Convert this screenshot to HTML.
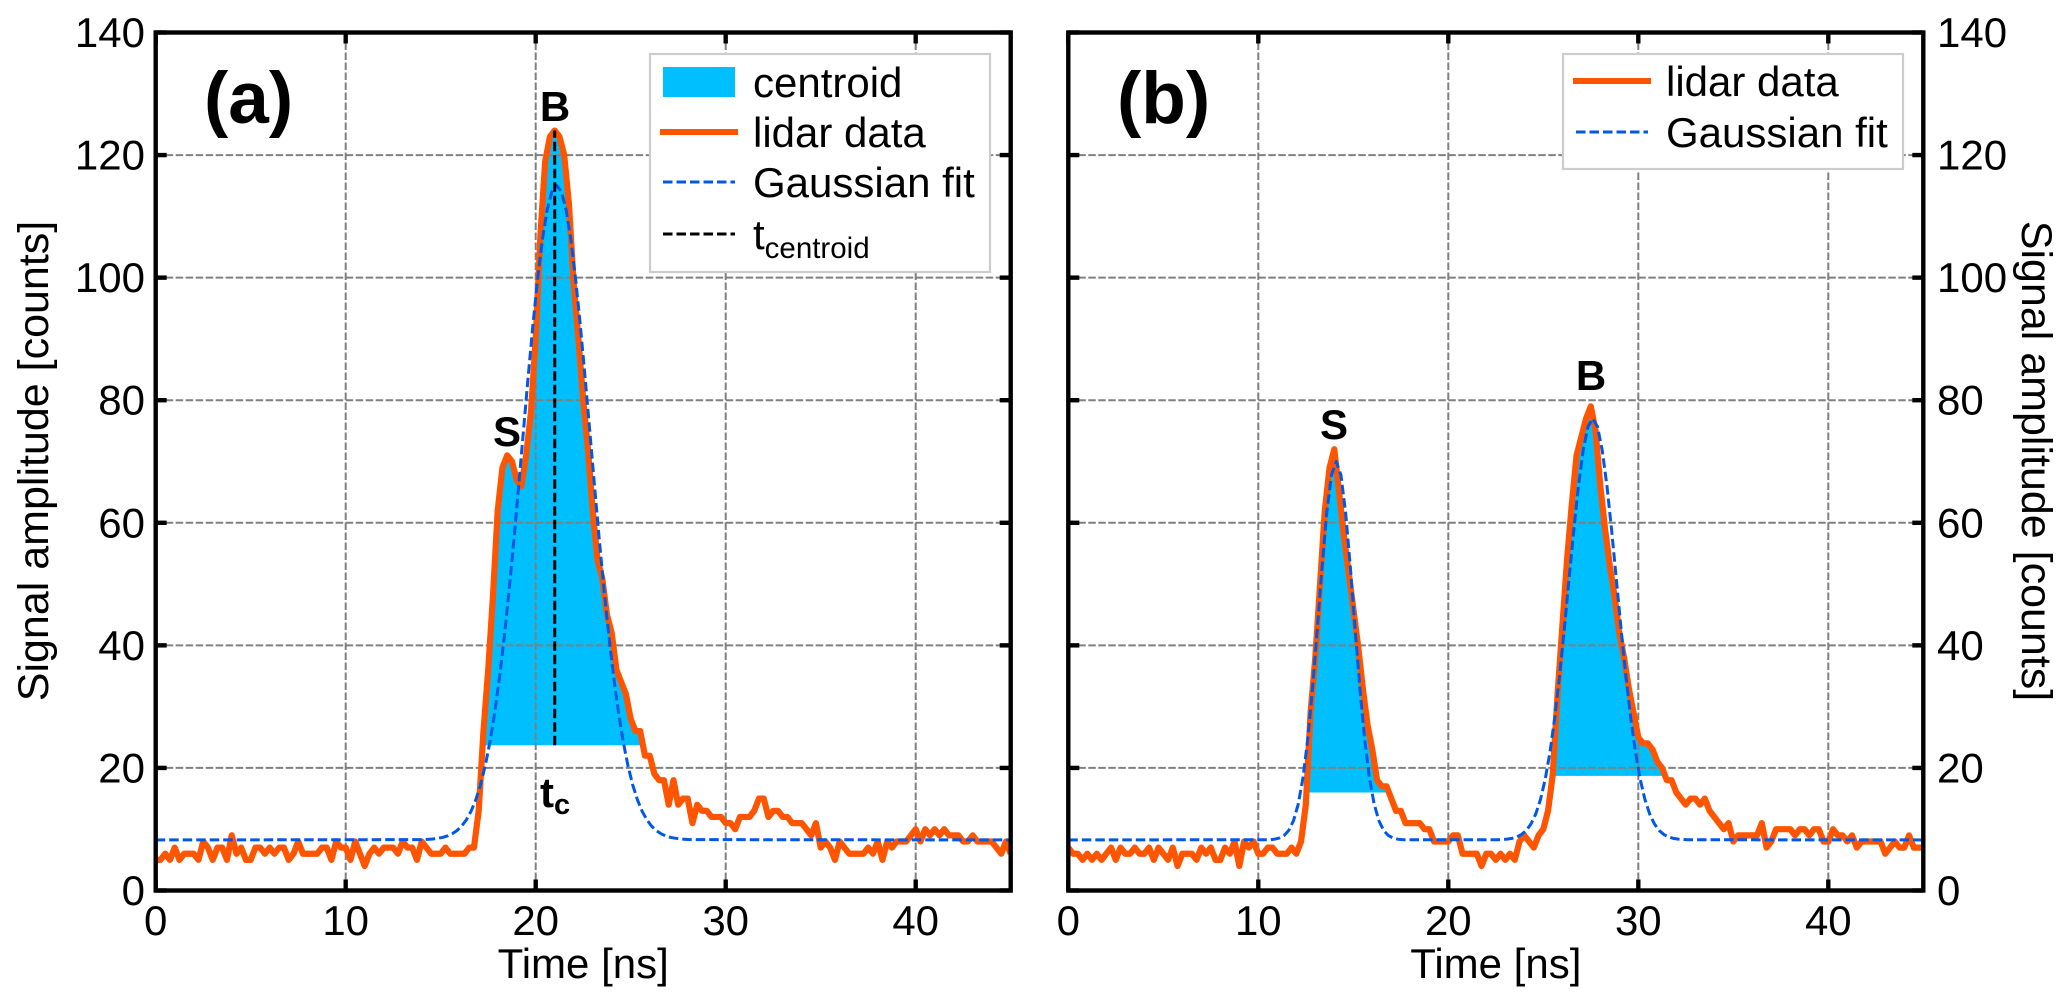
<!DOCTYPE html>
<html lang="en">
<head>
<meta charset="utf-8">
<title>Lidar signal amplitude versus time</title>
<style>
html,body{margin:0;padding:0;background:#fff;}
svg{display:block;}
text{font-family:"Liberation Sans",Arial,sans-serif;fill:#000;}
</style>
</head>
<body>
<svg id="figure" xmlns="http://www.w3.org/2000/svg" width="2067" height="1004" viewBox="0 0 2067 1004">
  <defs>
    <clipPath id="clip-a"><rect x="155.7" y="32.5" width="855" height="858"/></clipPath>
    <clipPath id="clip-b"><rect x="1068.3" y="32.5" width="855" height="858"/></clipPath>
  </defs>
  <rect x="0" y="0" width="2067" height="1004" fill="#fff"/>
  <g id="panel-a"></g>
  <g id="panel-b"></g>

  <text x="204" y="123" font-size="73" font-weight="bold">(a)</text>
  <text x="1117" y="123" font-size="73" font-weight="bold">(b)</text>
  <text x="507" y="446" font-size="42" font-weight="bold" text-anchor="middle">S</text>
  <text x="555" y="121" font-size="42" font-weight="bold" text-anchor="middle">B</text>
  <text x="540" y="807" font-size="42" font-weight="bold">t<tspan font-size="29" dy="7">c</tspan></text>
  <text x="1334" y="439" font-size="42" font-weight="bold" text-anchor="middle">S</text>
  <text x="1591" y="390" font-size="42" font-weight="bold" text-anchor="middle">B</text>

  <g>
    <rect x="650" y="54" width="340" height="218" fill="#fff" stroke="#cccccc" stroke-width="2.2"/>
    <g>
      <rect x="663" y="67" width="72" height="30" fill="#00bfff"/>
      <text x="753" y="97" font-size="42">centroid</text>
    </g>
    <g>
      <line x1="660" y1="132" x2="738" y2="132" stroke="#ff5500" stroke-width="6"/>
      <text x="753" y="147" font-size="42">lidar data</text>
    </g>
    <g>
      <line x1="663" y1="182" x2="735" y2="182" stroke="#0059e6" stroke-width="3" stroke-dasharray="9.5 4"/>
      <text x="753" y="197" font-size="42">Gaussian fit</text>
    </g>
    <g>
      <line x1="663" y1="234" x2="735" y2="234" stroke="#000" stroke-width="3" stroke-dasharray="9.5 4"/>
      <text x="753" y="249" font-size="42">t<tspan font-size="29.5" dy="9">centroid</tspan></text>
    </g>
  </g>

  <g>
    <rect x="1563" y="54" width="340" height="115" fill="#fff" stroke="#cccccc" stroke-width="2.2"/>
    <g>
      <line x1="1573" y1="81" x2="1651" y2="81" stroke="#ff5500" stroke-width="6"/>
      <text x="1666" y="96" font-size="42">lidar data</text>
    </g>
    <g>
      <line x1="1576" y1="132" x2="1648" y2="132" stroke="#0059e6" stroke-width="3" stroke-dasharray="9.5 4"/>
      <text x="1666" y="147" font-size="42">Gaussian fit</text>
    </g>
  </g>
</svg>

<script>
const xTickValues = [0, 10, 20, 30, 40];
const yTickValues = [0, 20, 40, 60, 80, 100, 120, 140];
const xAxisTitle = "Time [ns]";
const yAxisTitle = "Signal amplitude [counts]";
const sampleStepNs = 0.25;

const lidarAmplitudeA = [
  5,5,6,5,7,5,6,6,6,5,
  8,7,5,7,7,5,9,6,7,5,
  5,7,7,6,7,6,7,7,5,6,
  8,6,6,6,6,7,7,5,8,7,
  7,5,8,6,4,6,7,6,7,7,
  7,6,8,7,7,5,8,7,6,6,
  6,7,6,6,6,6,7,7,13,26,
  36,48,62,69,71,70,67,66,71,78,
  90,107,119,123,124,123,120,112,99,90,
  80,72,62,54,51,45,42,36,34,32,
  28,26,26,22,22,19,18,18,14,18,
  14,15,15,11,14,13,13,12,12,12,
  11,11,10,12,12,12,13,15,15,12,
  13,13,12,12,11,11,11,10,9,11,
  7,8,7,5,8,7,6,6,6,6,
  7,6,8,5,8,7,8,8,8,9,
  10,8,10,9,10,9,10,9,9,9,
  8,8,9,8,8,8,8,7,6,8,
  6
];
const lidarAmplitudeB = [
  7,6,6,5,6,5,6,5,6,7,
  5,7,6,6,7,6,6,7,5,7,
  6,5,7,4,6,6,6,5,7,6,
  7,5,5,7,6,8,4,8,7,8,
  6,6,7,7,6,6,6,7,6,8,
  14,29,38,50,62,69,72,65,58,52,
  46,40,33,27,23,18,17,17,15,13,
  13,11,11,11,11,10,10,8,8,8,
  8,9,9,6,6,6,6,4,6,6,
  5,6,5,6,5,8,9,8,7,9,
  10,13,19,32,43,54,63,71,74,77,
  79,75,66,59,53,48,42,38,33,29,
  25,24,24,23,21,20,18,18,16,15,
  14,15,15,14,15,13,12,11,10,11,
  8,9,9,9,9,9,11,7,8,10,
  10,10,10,9,10,10,9,10,10,8,
  8,10,9,9,8,9,7,8,8,8,
  8,8,6,7,8,7,7,9,7,7,
  7
];

const fitTimeA = [
  0,14.1,14.6,15.1,15.35,15.6,15.85,16.1,16.35,16.6,16.85,17.1,17.35,17.6,17.85,
  18.1,18.35,18.6,18.85,19.1,19.35,19.6,19.85,20.1,20.35,20.6,20.85,21.1,
  21.35,21.6,21.85,22.1,22.35,22.6,22.85,23.1,23.35,23.6,23.85,24.1,24.35,
  24.6,24.85,25.1,25.35,25.6,25.85,26.1,26.35,26.6,26.85,27.1,27.6,28.1,45
];
const fitValueA = [
  8.25,8.3,8.41,8.66,8.9,9.25,9.77,10.5,11.53,12.94,14.83,17.29,20.45,24.38,29.17,
  34.89,41.5,48.96,57.14,65.86,74.83,83.71,92.16,99.78,106.17,111.01,114.03,115.05,
  114.03,111.01,106.17,99.78,92.16,83.71,74.83,65.86,57.14,48.96,41.5,34.89,29.17,
  24.38,20.45,17.29,14.83,12.94,11.53,10.5,9.77,9.25,8.9,8.66,8.41,8.3,8.25
];
const fitTimeB = [
  0,10.6,10.85,11.1,11.35,11.6,11.85,12.1,12.35,12.6,12.85,13.1,13.35,13.6,13.85,14.1,
  14.35,14.6,14.85,15.1,15.35,15.6,15.85,16.1,16.35,16.6,16.85,17.1,17.35,17.6,
  22.6,23.1,23.35,23.6,23.85,24.1,24.35,24.6,24.85,25.1,25.35,25.6,25.85,26.1,26.35,
  26.6,26.85,27.1,27.35,27.6,27.85,28.1,28.35,28.6,28.85,29.1,29.35,29.6,29.85,30.1,
  30.35,30.6,30.85,31.1,31.35,31.6,31.85,32.1,32.6,45
];
const fitValueB = [
  8.25,8.29,8.37,8.55,8.96,9.79,11.36,14.06,18.36,24.6,32.79,42.46,52.54,61.52,67.77,70,
  67.77,61.52,52.54,42.46,32.79,24.6,18.36,14.06,11.36,9.79,8.96,8.55,8.37,8.29,
  8.28,8.38,8.5,8.73,9.13,9.79,10.85,12.47,14.84,18.16,22.56,28.15,34.86,42.47,50.61,
  58.67,66,71.87,75.68,77,75.68,71.87,66,58.67,50.61,42.47,34.86,28.15,22.56,18.16,
  14.84,12.47,10.85,9.79,9.13,8.73,8.5,8.38,8.28,8.25
];

const centroidTimeA = [21];
const centroidLevelA = [23.7];
const centroidWindowA = [15, 30];
const centroidLevelB = [16, 18.7];
const centroidWindowStartB = [11, 23];
const centroidWindowEndB = [19, 33];

const SVG_NS = "http://www.w3.org/2000/svg";
const PLOT_TOP = 32.5, PLOT_BOTTOM = 890.5, PLOT_W = 855, X_MAX = 45, Y_MAX = 140;

function yScale(v) { return PLOT_BOTTOM - (v / Y_MAX) * (PLOT_BOTTOM - PLOT_TOP); }
function xScaleFor(left) { return function (t) { return left + (t / X_MAX) * PLOT_W; }; }

function make(tag, attrs, parent) {
  const node = document.createElementNS(SVG_NS, tag);
  Object.keys(attrs).forEach(function (k) { node.setAttribute(k, attrs[k]); });
  parent.appendChild(node);
  return node;
}

function pointsOf(times, values, xs) {
  return times.map(function (t, i) { return xs(t).toFixed(2) + "," + yScale(values[i]).toFixed(2); }).join(" ");
}

function centroidPolygon(times, values, level, tStart, tEnd, xs) {
  const pts = [];
  for (let i = 1; i < times.length; i++) {
    const t0 = times[i - 1], t1 = times[i], v0 = values[i - 1], v1 = values[i];
    if (t1 < tStart || t0 > tEnd) continue;
    if ((v0 < level) !== (v1 < level)) {
      const cross = t0 + (level - v0) / (v1 - v0) * (t1 - t0);
      pts.push([cross, level]);
    }
    if (v1 >= level) pts.push([t1, v1]);
  }
  return pts.map(function (p) { return xs(p[0]).toFixed(2) + "," + yScale(p[1]).toFixed(2); }).join(" ");
}

function drawPanel(cfg) {
  const root = document.getElementById(cfg.id);
  const xs = xScaleFor(cfg.left);
  const right = cfg.left + PLOT_W;
  const times = cfg.amplitude.map(function (_, i) { return i * sampleStepNs; });

  cfg.fills.forEach(function (f) {
    const area = make("polygon", {
      points: centroidPolygon(times, cfg.amplitude, f.level, f.start, f.end, xs),
      fill: "#00bfff"
    }, root);
    
    
  });

  xTickValues.slice(1).forEach(function (t) {
    const g = make("line", { x1: xs(t), x2: xs(t), y1: PLOT_TOP, y2: PLOT_BOTTOM, stroke: "#808080", "stroke-width": 2, "stroke-dasharray": "7.5 2.5" }, root);
    
    
  });
  yTickValues.slice(1, -1).forEach(function (v) {
    const g = make("line", { x1: cfg.left, x2: right, y1: yScale(v), y2: yScale(v), stroke: "#808080", "stroke-width": 2, "stroke-dasharray": "7.5 2.5" }, root);
    
    
  });

  const clipped = make("g", { "clip-path": "url(#" + cfg.clip + ")" }, root);
  
  

  const data = make("polyline", {
    points: pointsOf(times, cfg.amplitude, xs), fill: "none", stroke: "#ff5500",
    "stroke-width": 6.2, "stroke-linejoin": "round", "stroke-linecap": "butt"
  }, clipped);
  
  

  const fit = make("polyline", {
    points: pointsOf(cfg.fitTime, cfg.fitValue, xs), fill: "none", stroke: "#0059e6",
    "stroke-width": 3, "stroke-dasharray": "9.5 4", "stroke-linejoin": "round"
  }, clipped);
  
  

  cfg.centroids.forEach(function (c) {
    const v = make("line", { x1: xs(c.t), x2: xs(c.t), y1: yScale(c.from), y2: yScale(c.to), stroke: "#000", "stroke-width": 3, "stroke-dasharray": "9.5 4" }, clipped);
    
    
  });

  xTickValues.forEach(function (t) {
    [[PLOT_BOTTOM, PLOT_BOTTOM - 11], [PLOT_TOP, PLOT_TOP + 11]].forEach(function (p) {
      const tk = make("line", { x1: xs(t), x2: xs(t), y1: p[0], y2: p[1], stroke: "#000", "stroke-width": 4.4 }, root);
      
      
    });
    const lb = make("text", { x: xs(t), y: 935, "font-size": 42, "text-anchor": "middle" }, root);
    lb.textContent = String(t);
    
    
  });

  yTickValues.forEach(function (v) {
    [[cfg.left, cfg.left + 11], [right, right - 11]].forEach(function (p) {
      const tk = make("line", { x1: p[0], x2: p[1], y1: yScale(v), y2: yScale(v), stroke: "#000", "stroke-width": 4.4 }, root);
      
      
    });
    const lb = make("text", { x: cfg.tickX, y: yScale(v) + 14.5, "font-size": 42, "text-anchor": cfg.tickAnchor }, root);
    lb.textContent = String(v);
    
    
  });

  const frame = make("rect", { x: cfg.left, y: PLOT_TOP, width: PLOT_W, height: PLOT_BOTTOM - PLOT_TOP, fill: "none", stroke: "#000", "stroke-width": 4.4 }, root);
  
  

  const xt = make("text", { x: cfg.left + PLOT_W / 2, y: 978, "font-size": 42, "text-anchor": "middle" }, root);
  xt.textContent = xAxisTitle;
  
  

  const yt = make("text", { transform: "translate(" + cfg.titleX + ",461) rotate(" + cfg.titleRot + ")", "font-size": 43, "text-anchor": "middle" }, root);
  yt.textContent = yAxisTitle;
  
  
}

drawPanel({
  id: "panel-a", clip: "clip-a", left: 155.7,
  amplitude: lidarAmplitudeA, fitTime: fitTimeA, fitValue: fitValueA,
  fills: [{ level: centroidLevelA[0], start: centroidWindowA[0], end: centroidWindowA[1] }],
  centroids: [{ t: centroidTimeA[0], from: centroidLevelA[0], to: 124 }],
  tickX: 145, tickAnchor: "end", titleX: 48, titleRot: -90
});
drawPanel({
  id: "panel-b", clip: "clip-b", left: 1068.3,
  amplitude: lidarAmplitudeB, fitTime: fitTimeB, fitValue: fitValueB,
  fills: centroidLevelB.map(function (lv, i) { return { level: lv, start: centroidWindowStartB[i], end: centroidWindowEndB[i] }; }),
  centroids: [],
  tickX: 1937, tickAnchor: "start", titleX: 2022, titleRot: 90
});
</script>
</body>
</html>
